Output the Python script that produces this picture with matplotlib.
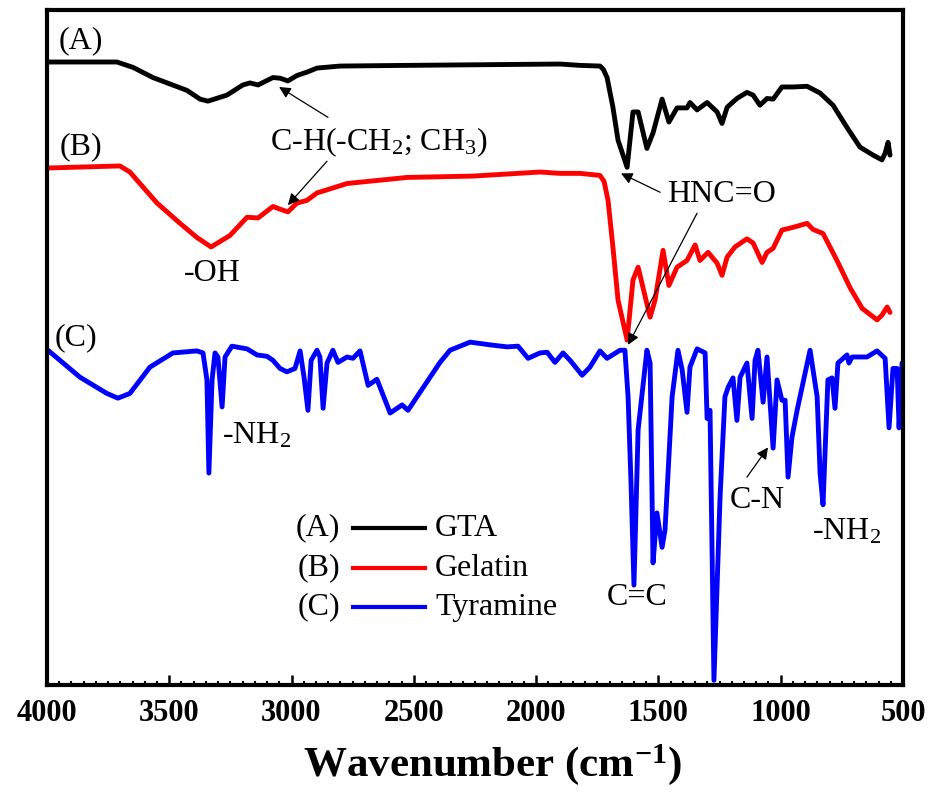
import matplotlib.pyplot as plt
from matplotlib.ticker import MultipleLocator

plt.rcParams['font.family'] = ['Liberation Serif', 'DejaVu Serif']
plt.rcParams['mathtext.fontset'] = 'custom'
plt.rcParams['mathtext.rm'] = 'Liberation Serif'
plt.rcParams['mathtext.it'] = 'Liberation Serif:italic'
plt.rcParams['mathtext.bf'] = 'Liberation Serif:bold'

### DADOS (transmitancia em unidades arbitrarias com deslocamento)
# (A) GTA
gta_wn = [3996, 3714, 3648, 3567, 3428, 3374, 3342, 3264, 3199, 3170, 3137, 3076, 3047, 3015,
          2978, 2937, 2896, 2802, 2528, 1902, 1821, 1739, 1725, 1710, 1686, 1665, 1628, 1604, 1583,
          1547, 1522, 1485, 1457, 1424, 1383, 1371, 1342, 1301, 1260, 1240, 1219, 1179, 1138,
          1113, 1085, 1056, 1031, 995, 950, 892, 839, 786, 729, 676, 622, 586, 573, 561, 553]
gta_t = [92.3, 92.3, 91.5, 90.0, 88.1, 86.8, 86.5, 87.4, 88.9, 89.2, 88.9, 90.0, 89.9, 89.5,
         90.3, 90.8, 91.4, 91.7, 91.8, 92.0, 91.8, 91.7, 91.2, 90.0, 85.6, 80.7, 76.7, 84.9, 84.9,
         79.5, 81.8, 86.8, 83.4, 85.5, 85.5, 86.3, 85.2, 86.3, 84.9, 83.2, 85.6, 86.9, 87.8,
         87.4, 85.9, 86.9, 86.8, 88.6, 88.6, 88.7, 87.7, 85.9, 82.6, 79.7, 78.5, 77.8, 78.8, 80.4, 78.5]

# (B) Gelatina
gel_wn = [3996, 3702, 3661, 3550, 3456, 3387, 3329, 3252, 3182, 3137, 3076, 3047, 3015, 2978,
          2937, 2896, 2773, 2528, 2258, 1984, 1902, 1821, 1739, 1722, 1706, 1686, 1665, 1628, 1604,
          1583, 1534, 1514, 1481, 1457, 1424, 1383, 1350, 1330, 1297, 1260, 1240, 1219, 1187,
          1138, 1113, 1076, 1056, 1031, 995, 950, 892, 868, 827, 770, 717, 667, 606, 586, 565, 553]
gel_t = [76.6, 76.9, 76.0, 71.4, 68.4, 66.3, 64.9, 66.6, 69.3, 69.2, 70.9, 70.5, 70.1, 71.4,
         71.8, 72.9, 74.3, 75.2, 75.4, 76.0, 75.8, 75.8, 75.5, 74.6, 71.8, 64.9, 57.0, 51.1, 60.0,
         61.9, 54.5, 57.0, 64.4, 59.2, 61.9, 62.9, 65.2, 62.9, 64.1, 62.5, 60.7, 63.4, 64.9,
         66.1, 65.5, 62.6, 64.1, 64.7, 67.4, 67.8, 68.4, 67.5, 66.9, 62.9, 58.9, 55.8, 54.1, 54.8, 56.0, 55.2]

# (C) Tiramina
tyr_wn = [3996, 3865, 3755, 3710, 3661, 3579, 3485, 3387, 3362, 3346, 3338, 3325, 3313, 3301,
          3284, 3272, 3244, 3182, 3141, 3100, 3076, 3047, 3019, 2986, 2965, 2949, 2933, 2920,
          2896, 2884, 2871, 2855, 2831, 2810, 2773, 2749, 2720, 2687, 2651, 2597, 2548, 2524,
          2393, 2352, 2270, 2189, 2119, 2074, 2033, 1984, 1955, 1923, 1890, 1861, 1812, 1780,
          1739, 1710, 1657, 1637, 1624, 1612, 1600, 1583, 1547, 1534, 1522, 1506, 1485, 1473,
          1444, 1420, 1403, 1383, 1371, 1342, 1309, 1301, 1289, 1273, 1248, 1228, 1215, 1195,
          1179, 1166, 1138, 1117, 1105, 1093, 1072, 1056, 1031, 1015, 995, 982, 970, 954, 933,
          880, 851, 839, 827, 807, 790, 778, 766, 729, 721, 708, 647, 606, 573, 557, 541, 524, 516, 504]
tyr_t = [49.6, 45.6, 43.2, 42.5, 43.2, 47.1, 49.2, 49.5, 49.2, 45.2, 31.4, 45.2, 49.2, 48.6,
         41.2, 48.6, 50.2, 49.8, 48.9, 48.7, 48.1, 46.9, 46.4, 46.9, 49.5, 45.6, 40.7, 48.1,
         49.6, 48.6, 41.0, 47.7, 49.6, 47.8, 48.6, 48.4, 49.5, 44.4, 45.3, 40.3, 41.5, 40.7,
         47.8, 49.6, 50.8, 50.4, 50.1, 50.2, 48.4, 49.2, 49.3, 47.8, 49.2, 48.1, 45.9, 47.1,
         49.5, 48.4, 49.6, 49.6, 42.7, 29.9, 14.8, 37.8, 49.6, 47.7, 18.1, 25.5, 20.4, 23.0,
         42.7, 49.6, 46.7, 40.4, 47.1, 49.8, 49.2, 39.5, 40.7, 0.7, 27.8, 42.7, 44.1, 45.5,
         39.2, 45.6, 47.7, 39.5, 48.1, 49.6, 41.9, 48.6, 35.1, 45.2, 42.2, 42.2, 30.8, 36.7, 40.7,
         49.6, 42.7, 31.4, 26.7, 45.2, 45.5, 41.0, 47.7, 48.9, 47.7, 48.6, 48.6, 49.5, 48.4, 38.1, 46.9, 46.9, 38.1, 47.7]

nomes = ['GTA', 'Gelatin', 'Tyramine']
letras = ['(A)', '(B)', '(C)']
cores = ['black', 'red', 'blue']

# Configurar o tamanho do grafico
fig = plt.figure(figsize=(9.34, 7.96), dpi=100)
ax = fig.add_axes([0.0503, 0.1394, 0.9165, 0.848])

# Plotar os espectros
for wn, t, cor in zip([gta_wn, gel_wn, tyr_wn], [gta_t, gel_t, tyr_t], cores):
    ax.plot(wn, t, color=cor, linewidth=3.5, solid_joinstyle='round', solid_capstyle='round')

ax.set_xlim(4000, 500)
ax.set_ylim(0, 100)
ax.set_yticks([])

# Eixo x
ax.xaxis.set_major_locator(MultipleLocator(500))
ax.xaxis.set_minor_locator(MultipleLocator(50))
ax.tick_params(axis='x', which='major', direction='in', length=7, width=1.8, pad=10)
ax.tick_params(axis='x', which='minor', direction='in', length=3, width=1.5)
for lab in ax.get_xticklabels():
    lab.set_fontsize(22)
    lab.set_fontweight('bold')
for s in ax.spines.values():
    s.set_linewidth(3)

ax.set_xlabel(r'Wavenumber (cm$^{\mathbf{-1}}$)', fontsize=31, fontweight='bold')
ax.xaxis.set_label_coords(0.52, -0.085)

# Letras das curvas
fs = 23
ax.text(3861, 95.4, '(A)', fontsize=fs, ha='center', va='center')
ax.text(3861, 79.8, '(B)', fontsize=fs, ha='center', va='center')
ax.text(3881, 51.4, '(C)', fontsize=fs, ha='center', va='center')

# Anotacoes dos grupos
seta = dict(arrowstyle='-|>', color='black', lw=0.9, mutation_scale=17, shrinkA=0, shrinkB=0)
ax.text(3088, 80.4, r'C-H(-CH$_2$; CH$_3$)', fontsize=fs, ha='left', va='center')
ax.annotate('', xy=(3051, 88.6), xytext=(2851, 84.1), arrowprops=seta)
ax.annotate('', xy=(3015, 71.1), xytext=(2855, 77.6), arrowprops=seta)
ax.text(3325, 61.0, '-OH', fontsize=fs, ha='center', va='center')
ax.text(1240, 72.6, 'HNC=O', fontsize=fs, ha='center', va='center')
ax.annotate('', xy=(1653, 75.8), xytext=(1493, 73.0), arrowprops=seta)
ax.annotate('', xy=(1624, 50.4), xytext=(1342, 69.9), arrowprops=seta)
ax.text(3284, 35.8, r'-NH$_2$', fontsize=fs, ha='left', va='baseline')
ax.text(1587, 12.9, 'C=C', fontsize=fs, ha='center', va='center')
ax.text(1097, 27.3, 'C-N', fontsize=fs, ha='center', va='center')
ax.annotate('', xy=(1052, 35.2), xytext=(1138, 30.8), arrowprops=seta)
ax.text(872, 21.5, r'-NH$_2$', fontsize=fs, ha='left', va='baseline')

# Legenda manual: (A) ---- GTA
ys = [0.2326, 0.1733, 0.1156]
for letra, nome, cor, y in zip(letras, nomes, cores, ys):
    ax.plot([0.3575, 0.4416], [y, y], color=cor, linewidth=3, transform=ax.transAxes)
    ax.text(0.3423, y, letra, fontsize=fs, ha='right', va='center', transform=ax.transAxes)
    ax.text(0.4533, y, nome, fontsize=fs, ha='left', va='center', transform=ax.transAxes)

# Salvar o grafico como uma imagem
plt.savefig('out.png', dpi=100)
